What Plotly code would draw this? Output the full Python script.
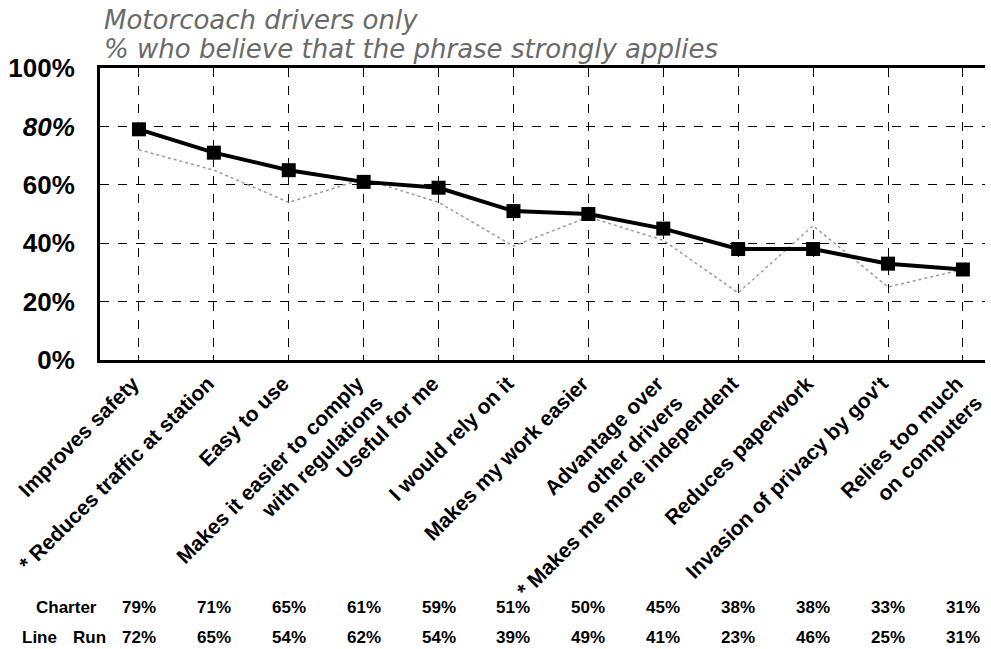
import plotly.graph_objects as go

categories = [
    "Improves safety",
    "* Reduces traffic at station",
    "Easy to use",
    "Makes it easier to comply<br>with regulations",
    "Useful for me",
    "I would rely on it",
    "Makes my work easier",
    "Advantage over<br>other drivers",
    "* Makes me more independent",
    "Reduces paperwork",
    "Invasion of privacy by gov't",
    "Relies too much<br>on computers",
]
charter = [79, 71, 65, 61, 59, 51, 50, 45, 38, 38, 33, 31]
line_run = [72, 65, 54, 62, 54, 39, 49, 41, 23, 46, 25, 31]
y_ticks = [0, 20, 40, 60, 80, 100]
y_tick_labels = ["<b>0%</b>", "<b>20%</b>", "<b>40%</b>", "<b>60%</b>", "<b><i>80%</i></b>", "<b>100%</b>"]
title_lines = ["Motorcoach drivers only", "% who believe that the phrase strongly applies"]

W, H = 991, 649
L, R, T, B = 100, 6, 68, 289
PW, PH = W - L - R, H - T - B
x = list(range(len(categories)))

def px_x(p):
    return (p - L) / PW

def px_y(p):
    return (H - B - p) / PH

fig = go.Figure()
fig.add_trace(go.Scatter(
    x=x, y=line_run, mode="lines", name="Line Run",
    line=dict(color="#9a9a9a", width=1.5, dash="dot"),
))
fig.add_trace(go.Scatter(
    x=x, y=charter, mode="lines+markers", name="Charter",
    line=dict(color="black", width=4),
    marker=dict(symbol="square", size=14, color="black"),
))

ann = []
tt_font = dict(family="DejaVu Sans", size=26, color="#6a6a6a")
ann.append(dict(text="<i>" + title_lines[0] + "</i>", xref="paper", yref="paper",
                x=px_x(102), y=px_y(20), xanchor="left", yanchor="middle",
                showarrow=False, font=tt_font))
ann.append(dict(text="<i>" + title_lines[1] + "</i>", xref="paper", yref="paper",
                x=px_x(102), y=px_y(49), xanchor="left", yanchor="middle",
                showarrow=False, font=tt_font))
tfont = dict(family="Liberation Sans Narrow, Liberation Sans, Arial", size=17, color="black", weight="bold")
ann.append(dict(text="Charter", xref="paper", yref="paper", x=px_x(66), y=px_y(607),
                xanchor="center", yanchor="middle", showarrow=False, font=tfont))
ann.append(dict(text="Line", xref="paper", yref="paper", x=px_x(39), y=px_y(637),
                xanchor="center", yanchor="middle", showarrow=False, font=tfont))
ann.append(dict(text="Run", xref="paper", yref="paper", x=px_x(89), y=px_y(637),
                xanchor="center", yanchor="middle", showarrow=False, font=tfont))
for i in x:
    ann.append(dict(text=f"{charter[i]}%", xref="x", yref="paper", x=i, y=px_y(607),
                    xanchor="center", yanchor="middle", showarrow=False, font=tfont))
    ann.append(dict(text=f"{line_run[i]}%", xref="x", yref="paper", x=i, y=px_y(637),
                    xanchor="center", yanchor="middle", showarrow=False, font=tfont))

fig.update_layout(
    width=W, height=H,
    margin=dict(l=L, r=R, t=T, b=B, pad=0, autoexpand=False),
    paper_bgcolor="white", plot_bgcolor="white",
    showlegend=False,
    annotations=ann,
    font=dict(family="Liberation Sans, Arial", color="black"),
)
fig.update_xaxes(
    range=[-0.52, 11.295],
    tickvals=x, ticktext=["<b>" + c + "</b>" for c in categories],
    tickangle=-45,
    tickfont=dict(family="Liberation Sans, Arial", size=21, color="black"),
    showgrid=True, gridcolor="black", gridwidth=1, griddash="dash",
    showline=True, linecolor="black", linewidth=3, mirror=True,
    ticks="inside", ticklen=5, tickcolor="black",
    zeroline=False, automargin=False, ticklabeloverflow="allow",
    ticklabelshift=-6,
)
fig.update_yaxes(
    range=[0, 100],
    tickvals=y_ticks, ticktext=y_tick_labels,
    tickfont=dict(family="Liberation Sans, Arial", size=26, color="black"),
    showgrid=True, gridcolor="black", gridwidth=1, griddash="dash",
    showline=True, linecolor="black", linewidth=3, mirror=False,
    ticks="", ticklabelstandoff=17,
    zeroline=False, automargin=False,
)

fig.write_html(
    "out.html",
    config={"displayModeBar": False},
    post_script="document.body.style.margin='0';document.body.style.overflow='hidden';",
)
